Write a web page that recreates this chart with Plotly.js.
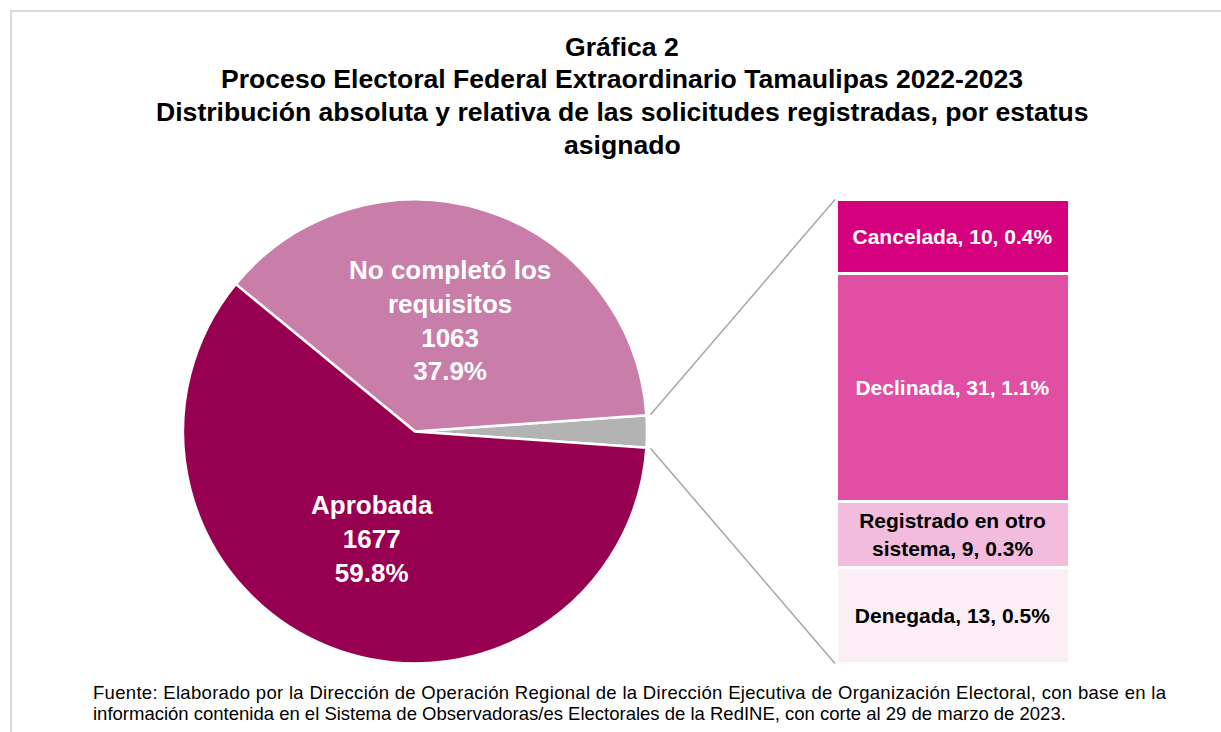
<!DOCTYPE html>
<html>
<head>
<meta charset="utf-8">
<script src="https://cdn.plot.ly/plotly-3.0.1.min.js"></script>
<style>html,body{margin:0;padding:0;background:#fff;}#chart{width:1221px;height:732px;}</style>
</head>
<body>
<div id="chart"></div>
<script>
// ---- data ----
const pieLabels = ["Otros", "No completó los requisitos", "Aprobada"];
const pieValues = [63, 1063, 1677];
const pieTextNames = ["", "No completó los<br>requisitos", "Aprobada"];

const barCategories = ["Denegada", "Registrado en otro sistema", "Declinada", "Cancelada"];
const barValues = [13, 9, 31, 10];
const barTextNames = ["Denegada", "Registrado en otro<br>sistema", "Declinada", "Cancelada"];

const titleLines = [
  "Gráfica 2",
  "Proceso Electoral Federal Extraordinario Tamaulipas 2022-2023",
  "Distribución absoluta y relativa de las solicitudes registradas, por estatus",
  "asignado"
];
const footerLines = [
  "Fuente: Elaborado por la Dirección de Operación Regional de la Dirección Ejecutiva de Organización Electoral, con base en la",
  "información contenida en el Sistema de Observadoras/es Electorales de la RedINE, con corte al 29 de marzo de 2023."
];

// ---- styles ----
const W = 1221, H = 732;
const FONT = "Liberation Sans, Arial, sans-serif";
const pieColors = ["#B3B3B3", "#C87EA9", "#970050"];
const barColors = ["#FCEEF5", "#F3BCDC", "#E04FA3", "#D5007D"];
const barTextColors = ["#000000", "#000000", "#FFFFFF", "#FFFFFF"];

const total = pieValues.reduce((a, b) => a + b, 0);
const pct = v => (v / total * 100).toFixed(1) + "%";

// geometry (pixels -> paper)
const pieLeft = 183, pieRight = 647, pieTop = 199.5, pieBottom = 663.5;
const barLeft = 836, barRight = 1069;
const px = x => x / W, py = y => 1 - y / H;

const otherShare = pieValues[0] / total;
// with counterclockwise direction, rotation is the counterclockwise-most edge of the first slice
const rotation = 90 - otherShare * 180;

const pieTrace = {
  type: "pie",
  labels: pieLabels,
  values: pieValues,
  sort: false,
  direction: "counterclockwise",
  rotation: rotation,
  textinfo: "none",
  marker: {colors: pieColors, line: {color: "#FFFFFF", width: 2.5}},
  domain: {x: [px(pieLeft), px(pieRight)], y: [py(pieBottom), py(pieTop)]},
  hoverinfo: "label+value+percent",
  showlegend: false
};

const barTraces = barValues.map((v, i) => ({
  type: "bar",
  x: [0],
  y: [v],
  name: barCategories[i],
  xaxis: "x",
  yaxis: "y",
  marker: {color: barColors[i], line: {color: "#FFFFFF", width: 3}},
  text: [barTextNames[i] + ", " + v + ", " + pct(v)],
  textposition: "inside",
  insidetextanchor: "middle",
  textangle: 0,
  constraintext: "none",
  textfont: {family: FONT, size: 21, color: barTextColors[i], weight: "bold"},
  hoverinfo: "name+y",
  showlegend: false
}));

// pie geometry for connector lines and inside labels
const cx = (pieLeft + pieRight) / 2, cy = (pieTop + pieBottom) / 2, R = (pieRight - pieLeft) / 2;
const halfAng = otherShare * Math.PI; // half angle of gray slice (radians), centred on 3 o'clock
const rr = R + 4;
const topStart = [cx + rr * Math.cos(halfAng), cy - rr * Math.sin(halfAng)];
const botStart = [cx + rr * Math.cos(halfAng), cy + rr * Math.sin(halfAng)];

const shapes = [
  {type: "line", xref: "paper", yref: "paper",
   x0: px(topStart[0]), y0: py(topStart[1]), x1: px(barLeft - 1), y1: py(pieTop),
   line: {color: "#A6A6A6", width: 1.5}},
  {type: "line", xref: "paper", yref: "paper",
   x0: px(botStart[0]), y0: py(botStart[1]), x1: px(barLeft - 1), y1: py(pieBottom),
   line: {color: "#A6A6A6", width: 1.5}},
  {type: "rect", xref: "paper", yref: "paper",
   x0: px(11), y0: -0.05, x1: 1.05, y1: py(11),
   line: {color: "#D9D9D9", width: 2}, fillcolor: "rgba(0,0,0,0)"}
];

// slice labels placed on each slice bisector at half radius
const annotations = [];
let startAng = halfAng; // counterclockwise from 3 o'clock, math convention
for (let i = 1; i < pieValues.length; i++) {
  const span = pieValues[i] / total * 2 * Math.PI;
  const mid = startAng + span / 2;
  startAng += span;
  annotations.push({
    xref: "paper", yref: "paper",
    x: px(cx + 0.5 * R * Math.cos(mid)), y: py(cy - 0.5 * R * Math.sin(mid)),
    xanchor: "center", yanchor: "middle",
    text: pieTextNames[i] + "<br>" + pieValues[i] + "<br>" + pct(pieValues[i]),
    showarrow: false, align: "center",
    font: {family: FONT, size: 26, color: "#FFFFFF", weight: "bold"}
  });
}

// title lines
const titleY = [47, 79.5, 112, 144.5];
titleLines.forEach((t, i) => annotations.push({
  xref: "paper", yref: "paper",
  x: px(622), y: py(titleY[i]),
  xanchor: "center", yanchor: "middle",
  text: t, showarrow: false,
  font: {family: FONT, size: 26.6, color: "#000000", weight: "bold"}
}));

// footer
footerLines.forEach((t, i) => annotations.push({
  xref: "paper", yref: "paper",
  x: px(91), y: py(692 + i * 21),
  xanchor: "left", yanchor: "middle",
  text: t, showarrow: false, align: "left",
  font: {family: FONT, size: 18.5, color: "#000000"}
}));

const layout = {
  width: W, height: H,
  margin: {l: 0, r: 0, t: 0, b: 0},
  paper_bgcolor: "#FFFFFF", plot_bgcolor: "rgba(0,0,0,0)",
  barmode: "stack",
  bargap: 0,
  xaxis: {domain: [px(barLeft), px(barRight)], range: [-0.5, 0.5], visible: false, fixedrange: true},
  yaxis: {domain: [py(pieBottom), py(pieTop)], range: [0, barValues.reduce((a, b) => a + b, 0)], visible: false, fixedrange: true},
  shapes: shapes,
  annotations: annotations,
  showlegend: false
};

Plotly.newPlot("chart", [pieTrace].concat(barTraces), layout, {displayModeBar: false, staticPlot: true}).then(gd => {
  // justify the first footer line like the source
  const texts = gd.querySelectorAll("text.annotation-text");
  texts.forEach(el => {
    if (el.textContent === footerLines[0]) {
      el.setAttribute("textLength", String(1165 - 92));
      el.setAttribute("lengthAdjust", "spacing");
    }
  });
});
</script>
</body>
</html>
